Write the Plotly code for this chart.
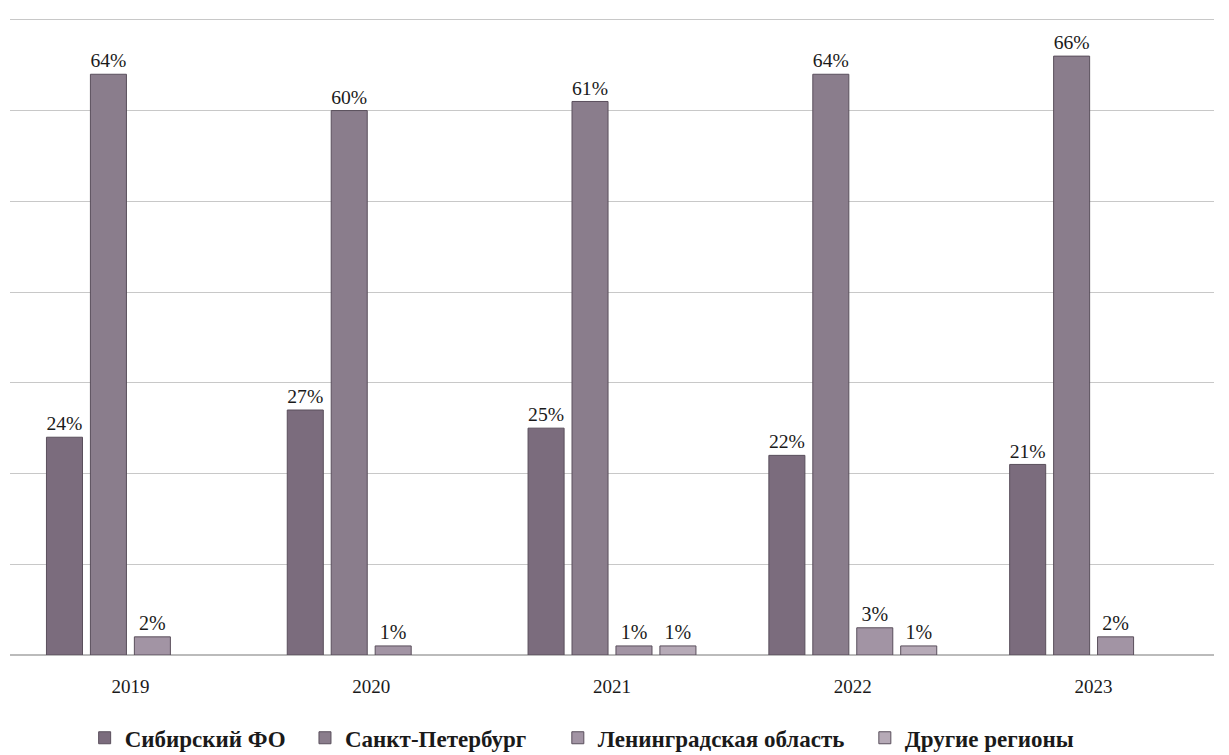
import plotly.graph_objects as go

years = ["2019", "2020", "2021", "2022", "2023"]
series_names = ["Сибирский ФО", "Санкт-Петербург", "Ленинградская область", "Другие регионы"]
sibir = [24, 27, 25, 22, 21]
spb = [64, 60, 61, 64, 66]
lenobl = [2, 1, 1, 3, 2]
other = [None, None, 1, 1, None]
colors = ["#7b6c7d", "#8a7d8c", "#a294a4", "#b6aab7"]
legend_ids = ["legend", "legend2", "legend3", "legend4"]
legend_x = [0.062, 0.245, 0.455, 0.710]

fig = go.Figure()
for name, vals, col, lid in zip(series_names, [sibir, spb, lenobl, other], colors, legend_ids):
    fig.add_trace(go.Bar(
        x=years, y=vals, name=name, legend=lid,
        marker=dict(color=col, line=dict(color="#5a4f5c", width=1)),
        text=[f"{v}%" if v is not None else "" for v in vals],
        textposition="outside",
        textfont=dict(family="Liberation Serif", size=20, color="#1a1a1a"),
        cliponaxis=False,
    ))

legend_common = dict(orientation="h", xanchor="left", y=-0.13, yanchor="middle",
                     font=dict(family="Liberation Serif", size=23, color="#1a1a1a", weight="bold"),
                     itemwidth=30, bgcolor="rgba(0,0,0,0)")

fig.update_layout(
    width=1229, height=755,
    paper_bgcolor="white", plot_bgcolor="white",
    barmode="group", bargap=0.27, bargroupgap=0.18,
    margin=dict(l=2, r=23, t=10, b=108, autoexpand=False),
    font=dict(family="Liberation Serif", color="#1a1a1a"),
    showlegend=True,
    xaxis=dict(showgrid=False, showline=True, linecolor="#bbbbbb", ticks="",
               ticklabelstandoff=14,
               tickfont=dict(family="Liberation Serif", size=19, color="#1a1a1a")),
    yaxis=dict(range=[0, 70.2], dtick=10, showgrid=True, gridcolor="#c8c8c8", gridwidth=1,
               showticklabels=False, zeroline=True, zerolinecolor="#bbbbbb"),
)
for lid, lx in zip(legend_ids, legend_x):
    fig.update_layout({lid: dict(legend_common, x=lx)})

fig.write_html("out.html")
